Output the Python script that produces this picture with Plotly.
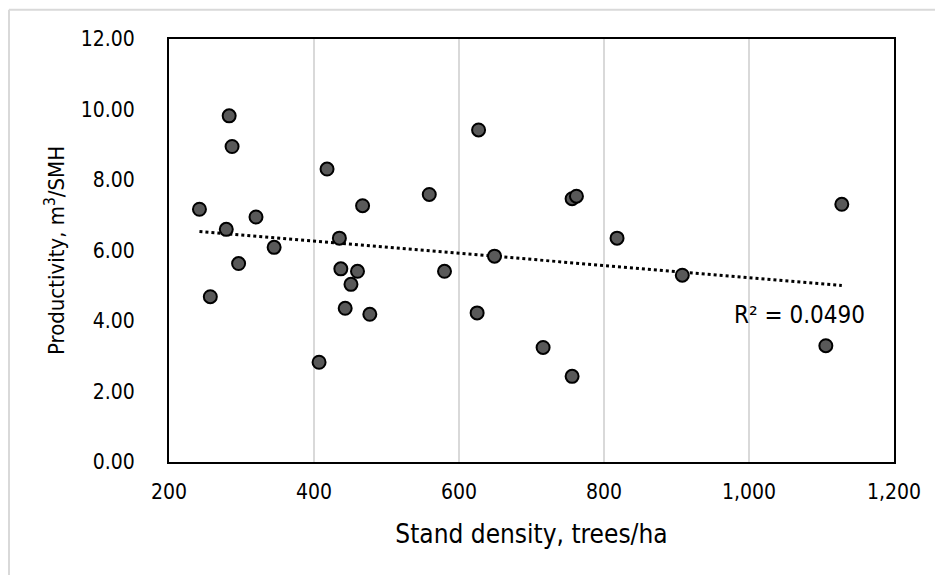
import numpy as np
import plotly.graph_objects as go

# stand density (trees/ha) vs productivity (m3/SMH)
density = [283, 287, 418, 559, 242, 467, 320, 279, 435, 345,
           296, 437, 460, 580, 451, 627, 756, 762, 818, 649,
           908, 257, 443, 477, 407, 625, 716, 756, 1106, 1128]
productivity = [9.82, 8.95, 8.31, 7.59, 7.17, 7.27, 6.95, 6.60, 6.35, 6.09,
                5.63, 5.48, 5.41, 5.41, 5.04, 9.42, 7.47, 7.54, 6.35, 5.84,
                5.30, 4.69, 4.36, 4.19, 2.83, 4.23, 3.25, 2.43, 3.30, 7.31]
r2_label = "R\u00b2 = 0.0490"

x_ticks = [200, 400, 600, 800, 1000, 1200]
y_ticks = [0, 2, 4, 6, 8, 10, 12]

# linear trendline
slope, intercept = np.polyfit(density, productivity, 1)
trend_x = [min(density), max(density)]
trend_y = [slope * v + intercept for v in trend_x]

FONT = "DejaVu Sans Condensed, DejaVu Sans"

fig = go.Figure()
fig.add_trace(go.Scatter(
    x=trend_x, y=trend_y, mode="lines",
    line=dict(color="black", width=3, dash="dot"),
    hoverinfo="skip", showlegend=False,
))
fig.add_trace(go.Scatter(
    x=density, y=productivity, mode="markers",
    marker=dict(size=13, color="#595959", line=dict(color="black", width=2)),
    showlegend=False,
))

fig.add_annotation(
    x=1069, y=4.17, xref="x", yref="y", text=r2_label, showarrow=False,
    font=dict(family=FONT, size=24, color="#000000"),
)

# outer chart frame (light gray)
fig.add_shape(type="line", xref="paper", yref="paper",
              x0=-0.2207, x1=1.2, y0=1.069, y1=1.069,
              line=dict(color="#d9d9d9", width=2))
fig.add_shape(type="line", xref="paper", yref="paper",
              x0=-0.2207, x1=-0.2207, y0=-0.5, y1=1.069,
              line=dict(color="#d9d9d9", width=2))

fig.update_xaxes(
    range=[200, 1200], tickvals=x_ticks, tickformat=",",
    showgrid=True, gridcolor="#d9d9d9", gridwidth=2,
    showline=True, linecolor="black", linewidth=2, mirror=True,
    zeroline=False, ticks="",
    ticklabelstandoff=10,
    tickfont=dict(family=FONT, size=21, color="#000000"),
    title=dict(text="Stand density, trees/ha", standoff=22,
               font=dict(family=FONT, size=26, color="#000000")),
)
fig.update_yaxes(
    range=[0, 12], tickvals=y_ticks, tickformat=".2f",
    showgrid=False,
    showline=True, linecolor="black", linewidth=2, mirror=True,
    zeroline=False, ticks="",
    ticklabelstandoff=28,
    tickfont=dict(family=FONT, size=21, color="#000000"),
    title=dict(text="Productivity, m<sup>3</sup>/SMH", standoff=10,
               font=dict(family=FONT, size=22, color="#000000")),
)

fig.update_layout(
    width=943, height=575,
    margin=dict(l=161, r=57, t=31, b=121),
    paper_bgcolor="white", plot_bgcolor="white",
)

fig.write_html("out.html")
